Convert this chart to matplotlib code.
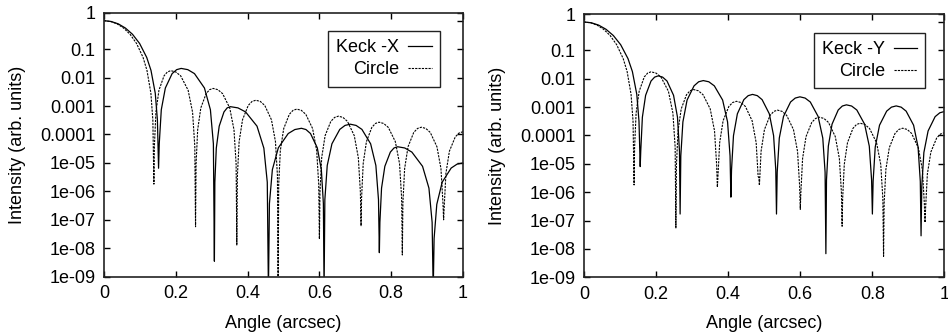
import matplotlib
matplotlib.use('Agg')
import matplotlib.pyplot as plt
from matplotlib.ticker import FixedLocator, NullFormatter

plt.rcParams['font.family'] = ['Liberation Sans', 'DejaVu Sans']
plt.rcParams['font.size'] = 13

# ---- values ----
# Circle (same curve in both panels), lobe points without the nulls
circle_ang = [0, 0.0181, 0.0363, 0.0544, 0.0726, 0.0907, 0.1088, 0.1197, 0.1306, 0.1361,
              0.1404, 0.1446, 0.1531, 0.1672, 0.1766, 0.186, 0.1998, 0.2136, 0.2343, 0.2467, 0.2529,
              0.2565, 0.2609, 0.2697, 0.2844, 0.2942, 0.304, 0.3172, 0.3304, 0.3502, 0.3621, 0.368,
              0.3716, 0.3764, 0.3859, 0.4018, 0.4124, 0.423, 0.4354, 0.4478, 0.4664, 0.4776, 0.4831,
              0.4866, 0.4912, 0.5006, 0.5162, 0.5266, 0.537, 0.5496, 0.5622, 0.5811, 0.5924, 0.5981,
              0.6016, 0.6064, 0.6159, 0.6318, 0.6424, 0.653, 0.6656, 0.6782, 0.6971, 0.7084, 0.7141,
              0.7175, 0.722, 0.731, 0.746, 0.756, 0.766, 0.779, 0.792, 0.8115, 0.8232, 0.829,
              0.8326, 0.8374, 0.8469, 0.8628, 0.8734, 0.884, 0.8964, 0.9088, 0.9274, 0.9386, 0.9441,
              0.9476, 0.9525, 0.9622, 0.9784, 0.9892, 1.0]
circle_int = [1, 0.939, 0.775, 0.553, 0.333, 0.158, 0.0511, 0.0179, 0.00282, 3.2e-4,
              3.9e-5, 6.1e-4, 3.6e-3, 0.0115, 0.0158, 0.0175, 0.0158, 0.0115, 3.6e-3, 6.1e-4, 3.9e-5,
              9.2e-6, 1.46e-4, 8.6e-4, 2.72e-3, 3.76e-3, 4.16e-3, 3.76e-3, 2.72e-3, 8.6e-4, 1.46e-4, 9.2e-6,
              3.6e-6, 5.6e-5, 3.3e-4, 1.05e-3, 1.45e-3, 1.6e-3, 1.45e-3, 1.05e-3, 3.3e-4, 5.6e-5, 3.6e-6,
              1.73e-6, 2.74e-5, 1.61e-4, 5.1e-4, 7.06e-4, 7.8e-4, 7.06e-4, 5.1e-4, 1.61e-4, 2.74e-5, 1.73e-6,
              9.8e-7, 1.54e-5, 9.1e-5, 2.88e-4, 3.98e-4, 4.4e-4, 3.98e-4, 2.88e-4, 9.1e-5, 1.54e-5, 9.8e-7,
              6e-7, 9.5e-6, 5.6e-5, 1.77e-4, 2.44e-4, 2.7e-4, 2.44e-4, 1.77e-4, 5.6e-5, 9.5e-6, 6e-7,
              4e-7, 6.3e-6, 3.7e-5, 1.18e-4, 1.63e-4, 1.8e-4, 1.63e-4, 1.18e-4, 3.7e-5, 6.3e-6, 4e-7,
              2.8e-7, 4.4e-6, 2.6e-5, 8.2e-5, 1.13e-4, 1.25e-4]
circle_null_ang = [0.139, 0.255, 0.370, 0.485, 0.600, 0.716, 0.831, 0.946]
circle_null_left = [1.8e-6, 5.7e-8, 1.3e-8, 3e-10, 2.1e-8, 6.2e-8, 5.8e-9, 1e-7]
circle_null_right = [1.8e-6, 5.5e-8, 1.5e-6, 3.2e-6, 2.5e-7, 6.3e-8, 5.5e-9, 8.6e-8]

# Keck -X (left panel)
keckx_ang = [0, 0.0198, 0.0397, 0.0595, 0.0794, 0.0992, 0.119, 0.1309, 0.1428, 0.1488,
             0.1539, 0.1596, 0.1709, 0.1898, 0.2024, 0.215, 0.2335, 0.252, 0.2798, 0.2964, 0.3047,
             0.3088, 0.3128, 0.3209, 0.3342, 0.3431, 0.352, 0.3732, 0.3944, 0.4262, 0.4453, 0.4548,
             0.4608, 0.469, 0.4856, 0.5132, 0.5316, 0.55, 0.5626, 0.5752, 0.5941, 0.6054, 0.6111,
             0.6152, 0.6218, 0.6349, 0.6568, 0.6714, 0.686, 0.7022, 0.7184, 0.7427, 0.7573, 0.7646,
             0.7685, 0.7731, 0.7823, 0.7976, 0.8078, 0.818, 0.8378, 0.8576, 0.8873, 0.9051, 0.914,
             0.9195, 0.927, 0.942, 0.967, 0.9834, 1.0]
keckx_int = [1, 0.939, 0.775, 0.553, 0.333, 0.158, 0.0511, 0.0179, 0.00282, 3.2e-4,
             4.7e-5, 7.4e-4, 4.3e-3, 0.0138, 0.019, 0.021, 0.019, 0.0138, 4.3e-3, 7.4e-4, 4.7e-5,
             2.1e-6, 3.3e-5, 1.96e-4, 6.2e-4, 8.6e-4, 9.5e-4, 8.6e-4, 6.2e-4, 1.96e-4, 3.3e-5, 2.1e-6,
             3.7e-7, 5.8e-6, 3.4e-5, 1.08e-4, 1.49e-4, 1.65e-4, 1.49e-4, 1.08e-4, 3.4e-5, 5.8e-6, 3.7e-7,
             5.1e-7, 8.1e-6, 4.7e-5, 1.51e-4, 2.08e-4, 2.3e-4, 2.08e-4, 1.51e-4, 4.7e-5, 8.1e-6, 5.1e-7,
             8.2e-8, 1.3e-6, 7.6e-6, 2.4e-5, 3.35e-5, 3.7e-5, 3.35e-5, 2.4e-5, 7.6e-6, 1.3e-6, 8.2e-8,
             2.2e-8, 3.5e-7, 2.1e-6, 6.6e-6, 9.05e-6, 1e-5]
keckx_null_ang = [0.152, 0.3075, 0.458, 0.613, 0.767, 0.917]
keckx_null_int = [6.5e-6, 3.5e-9, 3e-10, 3e-10, 7e-9, 3e-10]

# Keck -Y (right panel)
kecky_ang = [0, 0.0203, 0.0407, 0.0611, 0.0815, 0.1018, 0.1221, 0.1343, 0.1465, 0.1526,
             0.1575, 0.162, 0.171, 0.186, 0.196, 0.206, 0.2181, 0.2303, 0.2485, 0.2594, 0.2649,
             0.2686, 0.2744, 0.286, 0.3053, 0.3181, 0.331, 0.3463, 0.3616, 0.3846, 0.3983, 0.4052,
             0.4093, 0.4147, 0.4255, 0.4435, 0.4555, 0.4675, 0.4808, 0.4941, 0.5141, 0.526, 0.532,
             0.536, 0.5418, 0.5535, 0.573, 0.586, 0.599, 0.6134, 0.6278, 0.6494, 0.6624, 0.6688,
             0.6727, 0.6778, 0.6881, 0.7052, 0.7166, 0.728, 0.7424, 0.7568, 0.7784, 0.7914, 0.7978,
             0.802, 0.8079, 0.8198, 0.8396, 0.8528, 0.866, 0.8798, 0.8936, 0.9143, 0.9267, 0.9329,
             0.937, 0.9428, 0.9545, 0.974, 0.987, 1.0]
kecky_int = [1, 0.939, 0.775, 0.553, 0.333, 0.158, 0.0511, 0.0179, 0.00282, 3.2e-4,
             2.8e-5, 4.4e-4, 2.6e-3, 8.3e-3, 0.0114, 0.0126, 0.0114, 8.3e-3, 2.6e-3, 4.4e-4, 2.8e-5,
             1.9e-5, 3.0e-4, 1.77e-3, 5.6e-3, 7.8e-3, 0.0086, 7.8e-3, 5.6e-3, 1.77e-3, 3.0e-4, 1.9e-5,
             6.2e-6, 9.8e-5, 5.8e-4, 1.83e-3, 2.53e-3, 0.0028, 2.53e-3, 1.83e-3, 5.8e-4, 9.8e-5, 6.2e-6,
             5.1e-6, 8.1e-5, 4.7e-4, 1.51e-3, 2.08e-3, 0.0023, 2.08e-3, 1.51e-3, 4.7e-4, 8.1e-5, 5.1e-6,
             2.7e-6, 4.2e-5, 2.5e-4, 7.9e-4, 1.09e-3, 0.0012, 1.09e-3, 7.9e-4, 2.5e-4, 4.2e-5, 2.7e-6,
             2.4e-6, 3.9e-5, 2.3e-4, 7.2e-4, 9.95e-4, 0.0011, 9.95e-4, 7.2e-4, 2.3e-4, 3.9e-5, 2.4e-6,
             1.6e-6, 2.5e-5, 1.44e-4, 4.6e-4, 6.3e-4, 7e-4]
kecky_null_ang = [0.156, 0.2667, 0.4075, 0.534, 0.671, 0.80, 0.935]
kecky_null_int = [8e-6, 1.7e-7, 6.7e-7, 1.7e-7, 6.8e-9, 1.7e-7, 2.9e-8]

ytick_vals = [1e-9, 1e-8, 1e-7, 1e-6, 1e-5, 1e-4, 1e-3, 0.01, 0.1]
ytick_labels = ['1e-09', '1e-08', '1e-07', '1e-06', '1e-05', '0.0001', '0.001', '0.01', '0.1']
xtick_vals = [0, 0.2, 0.4, 0.6, 0.8, 1]
xtick_labels = ['0', '0.2', '0.4', '0.6', '0.8', '1']
y_top = 1.91


def merge(ang, inten, null_ang, null_int):
    # put the null points back between the lobes
    pts = sorted(zip(ang + null_ang, inten + null_int))
    return [p[0] for p in pts], [p[1] for p in pts]


def setup_axes(ax):
    ax.set_yscale('log')
    ax.set_xlim(0, 1)
    ax.set_ylim(1e-9, y_top)
    ax.set_xticks(xtick_vals)
    ax.set_xticklabels(xtick_labels)
    ax.set_yticks(ytick_vals + [y_top])
    ax.set_yticklabels(ytick_labels + ['1'])
    ax.yaxis.set_minor_locator(FixedLocator([1.0]))
    ax.yaxis.set_minor_formatter(NullFormatter())
    ax.tick_params(which='major', direction='in', length=4, width=1,
                   top=True, right=True, labelsize=13, pad=6)
    ax.tick_params(which='minor', direction='in', length=4, width=1,
                   left=False, right=True)
    for s in ax.spines.values():
        s.set_linewidth(1.2)
        s.set_color('#222222')
    ax.set_xlabel('Angle (arcsec)', labelpad=9)
    ax.set_ylabel('Intensity (arb. units)', labelpad=10)


def add_legend(ax, anchor):
    leg = ax.legend(loc='upper right', bbox_to_anchor=anchor, borderaxespad=0,
                    markerfirst=False, fancybox=False, framealpha=1,
                    edgecolor='#222222', handlelength=1.3, handletextpad=0.5,
                    labelspacing=0.3, borderpad=0.45, fontsize=13)
    leg.get_frame().set_linewidth(1.0)
    # gnuplot style: right aligned keys
    for col in leg._legend_handle_box.get_children():
        col.align = 'right'


fig = plt.figure(figsize=(9.48, 3.36), dpi=100)
ax1 = fig.add_axes([0.1097, 0.1765, 0.3787, 0.7857])
ax2 = fig.add_axes([0.6160, 0.1747, 0.3803, 0.7836])

kx, ky = merge(keckx_ang, keckx_int, keckx_null_ang, keckx_null_int)
cx, cy = merge(circle_ang, circle_int, circle_null_ang, circle_null_left)
ax1.plot(kx, ky, color='black', lw=0.9, label='Keck -X')
ax1.plot(cx, cy, color='black', lw=0.8, ls=(0, (2, 1)), label='Circle')
setup_axes(ax1)
add_legend(ax1, (0.936, 0.931))

kx, ky = merge(kecky_ang, kecky_int, kecky_null_ang, kecky_null_int)
cx, cy = merge(circle_ang, circle_int, circle_null_ang, circle_null_right)
ax2.plot(kx, ky, color='black', lw=0.9, label='Keck -Y')
ax2.plot(cx, cy, color='black', lw=0.8, ls=(0, (2, 1)), label='Circle')
setup_axes(ax2)
add_legend(ax2, (0.947, 0.929))

fig.savefig('out.png', dpi=100)
